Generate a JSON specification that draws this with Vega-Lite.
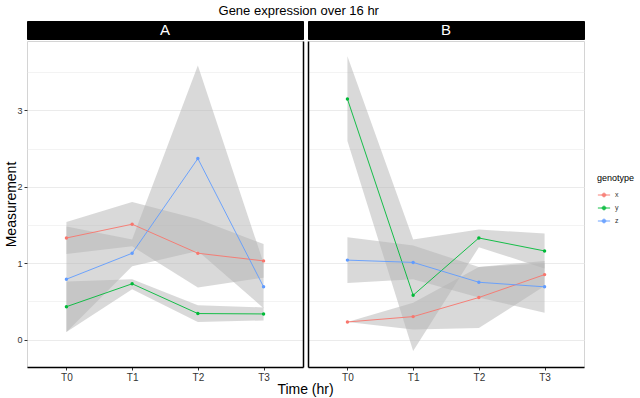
{
  "$schema": "https://vega.github.io/schema/vega-lite/v6.json",
  "background": "white",
  "padding": {"left": 4, "top": 4, "right": 0, "bottom": 0},
  "config": {
    "font": "Liberation Sans",
    "view": {"stroke": "#d4d4d4"},
    "axis": {"gridColor": "#ebebeb", "labelFont": "Liberation Sans", "titleFont": "Liberation Sans"},
    "legend": {"labelFont": "Liberation Sans", "titleFont": "Liberation Sans"}
  },
  "title": {"text": "Gene expression over 16 hr", "fontSize": 13, "fontWeight": "normal", "color": "black", "anchor": "middle", "dx": -21, "offset": 3},
  "datasets": {
    "expr": [
      {"panel": "A", "time": "T0", "genotype": "x", "mean": 1.33, "lo": 1.12, "hi": 1.54},
      {"panel": "A", "time": "T1", "genotype": "x", "mean": 1.51, "lo": 1.22, "hi": 1.80},
      {"panel": "A", "time": "T2", "genotype": "x", "mean": 1.13, "lo": 0.68, "hi": 1.58},
      {"panel": "A", "time": "T3", "genotype": "x", "mean": 1.03, "lo": 0.81, "hi": 1.25},
      {"panel": "A", "time": "T0", "genotype": "y", "mean": 0.43, "lo": 0.10, "hi": 0.76},
      {"panel": "A", "time": "T1", "genotype": "y", "mean": 0.73, "lo": 0.66, "hi": 0.79},
      {"panel": "A", "time": "T2", "genotype": "y", "mean": 0.34, "lo": 0.23, "hi": 0.45},
      {"panel": "A", "time": "T3", "genotype": "y", "mean": 0.335, "lo": 0.25, "hi": 0.42},
      {"panel": "A", "time": "T0", "genotype": "z", "mean": 0.79, "lo": 0.10, "hi": 1.48},
      {"panel": "A", "time": "T1", "genotype": "z", "mean": 1.13, "lo": 0.96, "hi": 1.31},
      {"panel": "A", "time": "T2", "genotype": "z", "mean": 2.37, "lo": 1.16, "hi": 3.59},
      {"panel": "A", "time": "T3", "genotype": "z", "mean": 0.69, "lo": 0.41, "hi": 1.00},
      {"panel": "B", "time": "T0", "genotype": "x", "mean": 0.23, "lo": 0.23, "hi": 0.23},
      {"panel": "B", "time": "T1", "genotype": "x", "mean": 0.30, "lo": 0.13, "hi": 0.48},
      {"panel": "B", "time": "T2", "genotype": "x", "mean": 0.55, "lo": 0.15, "hi": 0.95},
      {"panel": "B", "time": "T3", "genotype": "x", "mean": 0.85, "lo": 0.70, "hi": 1.00},
      {"panel": "B", "time": "T0", "genotype": "y", "mean": 3.15, "lo": 2.60, "hi": 3.71},
      {"panel": "B", "time": "T1", "genotype": "y", "mean": 0.58, "lo": -0.15, "hi": 1.31},
      {"panel": "B", "time": "T2", "genotype": "y", "mean": 1.33, "lo": 1.21, "hi": 1.44},
      {"panel": "B", "time": "T3", "genotype": "y", "mean": 1.16, "lo": 0.93, "hi": 1.39},
      {"panel": "B", "time": "T0", "genotype": "z", "mean": 1.04, "lo": 0.74, "hi": 1.34},
      {"panel": "B", "time": "T1", "genotype": "z", "mean": 1.01, "lo": 0.79, "hi": 1.23},
      {"panel": "B", "time": "T2", "genotype": "z", "mean": 0.75, "lo": 0.55, "hi": 0.95},
      {"panel": "B", "time": "T3", "genotype": "z", "mean": 0.69, "lo": 0.35, "hi": 1.03}
    ],
    "panels": [{"panel": "A"}, {"panel": "B"}],
    "xtitle": [{"label": "Time (hr)"}]
  },
  "vconcat": [
    {
      "hconcat": [
        {
          "vconcat": [
            {
              "width": 276, "height": 18,
              "view": {"fill": "black", "stroke": "black"},
              "data": {"name": "panels"},
              "transform": [{"filter": "datum.panel === 'A'"}],
              "mark": {"type": "text", "color": "white", "fontSize": 15, "baseline": "middle", "align": "center"},
              "encoding": {"text": {"field": "panel"}}
            },
            {
              "width": 276, "height": 326,
              "data": {"name": "expr"},
              "transform": [{"filter": "datum.panel === 'A'"}],
              "encoding": {
                "x": {"field": "time", "type": "ordinal", "scale": {"type": "point", "padding": 0.6},
                  "axis": {"title": null, "labelAngle": 0, "labelFontSize": 10, "labelColor": "#333", "tickColor": "#333", "tickSize": 3, "labelPadding": 2, "domainColor": "black", "domainWidth": 1.5}}
              },
              "layer": [
                {
                  "mark": {"type": "area", "fill": "#b3b3b3", "opacity": 0.5},
                  "encoding": {
                    "y": {"field": "lo", "type": "quantitative", "scale": {"domain": [-0.36, 3.91], "nice": false, "zero": false},
                      "axis": {"title": "Measurement", "titleFontSize": 14, "titleFontWeight": "normal", "titleColor": "black", "titlePadding": -2,
                        "values": [0, 0.5, 1, 1.5, 2, 2.5, 3, 3.5],
                        "labelExpr": "datum.value % 1 === 0 ? format(datum.value, 'd') : ''",
                        "labelFontSize": 9, "labelColor": "#333", "labelPadding": 2,
                        "tickSize": 3, "tickColor": {"condition": {"test": "datum.value % 1 !== 0", "value": "transparent"}, "value": "#333"},
                        "gridWidth": {"condition": {"test": "datum.value % 1 !== 0", "value": 0.6}, "value": 1},
                        "domain": false}},
                    "y2": {"field": "hi"},
                    "detail": {"field": "genotype"}
                  }
                },
                {
                  "mark": {"type": "line", "strokeWidth": 1, "opacity": 0.9},
                  "encoding": {
                    "y": {"field": "mean", "type": "quantitative", "axis": null},
                    "color": {"field": "genotype", "type": "nominal", "scale": {"domain": ["x", "y", "z"], "range": ["#F8766D", "#00BA38", "#619CFF"]},
                      "legend": {"title": "genotype", "orient": "none", "legendX": 570, "legendY": 153, "titleFontSize": 9, "titleFontWeight": "normal", "titleColor": "black", "labelFontSize": 7, "labelColor": "#333",
                        "symbolType": "M-1,0L1,0M-0.3,0A0.3,0.3,0,1,1,0.3,0A0.3,0.3,0,1,1,-0.3,0Z", "symbolSize": 150, "symbolStrokeWidth": 1, "rowPadding": 2}}
                  }
                },
                {
                  "mark": {"type": "point", "filled": true, "size": 12, "opacity": 1},
                  "encoding": {
                    "y": {"field": "mean", "type": "quantitative",
                      "axis": {"orient": "right", "labels": false, "ticks": false, "grid": false, "title": null, "domainColor": "black", "domainWidth": 1.5}},
                    "color": {"field": "genotype", "type": "nominal"}
                  }
                }
              ],
              "resolve": {"axis": {"y": "independent"}}
            }
          ],
          "spacing": 0
        },
        {
          "vconcat": [
            {
              "width": 276, "height": 18,
              "view": {"fill": "black", "stroke": "black"},
              "data": {"name": "panels"},
              "transform": [{"filter": "datum.panel === 'B'"}],
              "mark": {"type": "text", "color": "white", "fontSize": 15, "baseline": "middle", "align": "center"},
              "encoding": {"text": {"field": "panel"}}
            },
            {
              "width": 276, "height": 326,
              "data": {"name": "expr"},
              "transform": [{"filter": "datum.panel === 'B'"}],
              "encoding": {
                "x": {"field": "time", "type": "ordinal", "scale": {"type": "point", "padding": 0.6},
                  "axis": {"title": null, "labelAngle": 0, "labelFontSize": 10, "labelColor": "#333", "tickColor": "#333", "tickSize": 3, "labelPadding": 2, "domainColor": "black", "domainWidth": 1.5}}
              },
              "layer": [
                {
                  "mark": {"type": "area", "fill": "#b3b3b3", "opacity": 0.5},
                  "encoding": {
                    "y": {"field": "lo", "type": "quantitative", "scale": {"domain": [-0.36, 3.91], "nice": false, "zero": false},
                      "axis": {"title": null, "values": [0, 0.5, 1, 1.5, 2, 2.5, 3, 3.5], "labels": false, "ticks": false,
                        "gridWidth": {"condition": {"test": "datum.value % 1 !== 0", "value": 0.6}, "value": 1},
                        "domainColor": "black", "domainWidth": 1.5}},
                    "y2": {"field": "hi"},
                    "detail": {"field": "genotype"}
                  }
                },
                {
                  "mark": {"type": "line", "strokeWidth": 1, "opacity": 0.9},
                  "encoding": {
                    "y": {"field": "mean", "type": "quantitative"},
                    "color": {"field": "genotype", "type": "nominal", "scale": {"domain": ["x", "y", "z"], "range": ["#F8766D", "#00BA38", "#619CFF"]}}
                  }
                },
                {
                  "mark": {"type": "point", "filled": true, "size": 12, "opacity": 1},
                  "encoding": {
                    "y": {"field": "mean", "type": "quantitative"},
                    "color": {"field": "genotype", "type": "nominal"}
                  }
                }
              ]
            }
          ],
          "spacing": 0
        }
      ],
      "spacing": 3
    },
    {
      "width": 557, "height": 6,
      "view": {"stroke": null},
      "data": {"name": "xtitle"},
      "mark": {"type": "text", "fontSize": 14, "color": "black", "baseline": "middle"},
      "encoding": {"text": {"field": "label"}}
    }
  ],
  "spacing": 0,
  "resolve": {"scale": {"color": "shared"}, "legend": {"color": "shared"}}
}
